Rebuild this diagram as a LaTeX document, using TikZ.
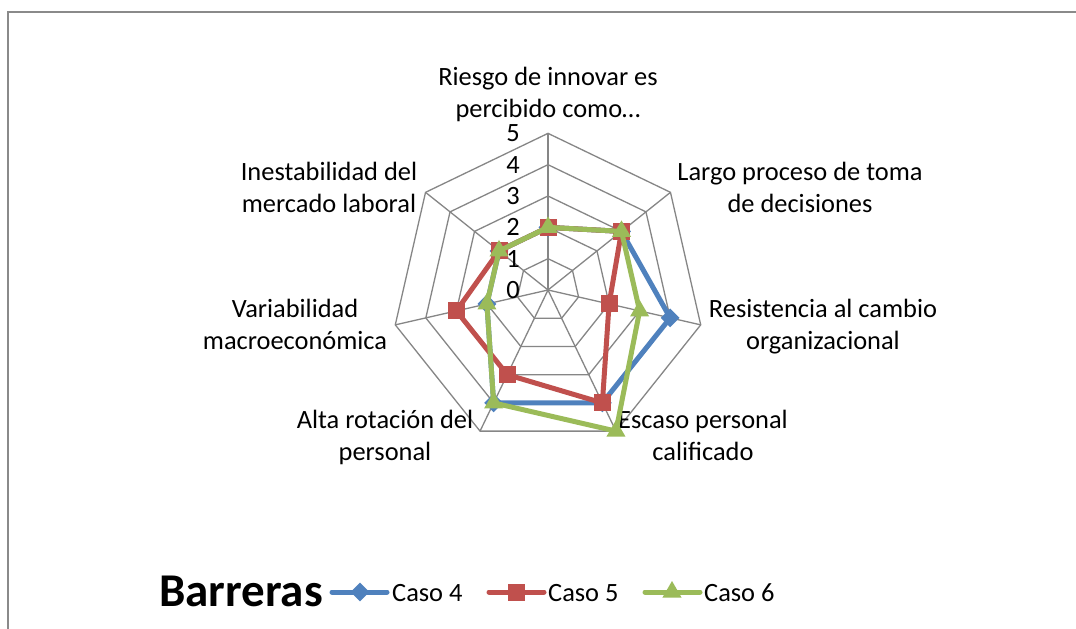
\documentclass[tikz,border=0pt]{standalone}
\usepackage{fontspec}
\setmainfont{Carlito}
\usetikzlibrary{shapes.geometric}
\definecolor{cfour}{HTML}{4F81BD}
\definecolor{cfive}{HTML}{C0504D}
\definecolor{csix}{HTML}{9BBB59}
\definecolor{gridc}{HTML}{868686}
\definecolor{framec}{HTML}{8A8A8A}
\begin{document}
\begin{tikzpicture}[x=1pt,y=-1pt,
  lbl/.style={font=\fontsize{26.4}{32}\selectfont, align=center, inner sep=0pt},
  ticklbl/.style={font=\fontsize{26.4}{32}\selectfont, inner sep=0pt},
  legtxt/.style={font=\fontsize{26.4}{32}\selectfont, inner sep=0pt, anchor=base west},
  gridline/.style={draw=gridc, line width=1.3pt, line join=miter},
  ser/.style={line width=5pt, line join=round, line cap=round},
  dmark/.style={diamond, fill=cfour, minimum width=19pt, minimum height=19pt, inner sep=0pt},
  smark/.style={rectangle, fill=cfive, minimum size=17pt, inner sep=0pt},
  tmark/.style={regular polygon, regular polygon sides=3, fill=csix, minimum size=22pt, inner sep=0pt},
]
\useasboundingbox (0,0) rectangle (1076,629);
\fill[white] (0,0) rectangle (1076,629);
% frame
\draw[framec, line width=1.8pt] (8,629) -- (8,12) -- (1076,12);

% grid
\coordinate (O) at (548,290);
\foreach \k in {1,...,5}{
  \foreach \i in {0,...,6}{
    \coordinate (g\k-\i) at ({548+31.33*\k*cos(90-360/7*\i)},{290-31.33*\k*sin(90-360/7*\i)});
  }
}
\foreach \k in {1,...,5}{
  \draw[gridline] (g\k-0) \foreach \i in {1,...,6}{ -- (g\k-\i) } -- cycle;
}
\foreach \i in {0,...,6}{
  \draw[gridline] (O) -- (g5-\i);
}

% tick labels
\foreach \k in {0,...,5}{
  \node[ticklbl] (t\k) at (513,{290-31.33*\k}) {\k};
}

% axis labels (anchor=base is the baseline of the last line)
\node[lbl, anchor=base] (l0) at (548,117) {Riesgo de innovar es\\percibido como…};
\node[lbl, anchor=base] (l1) at (800,212) {Largo proceso de toma\\de decisiones};
\node[lbl, anchor=base] (l2) at (823,349) {Resistencia al cambio\\organizacional};
\node[lbl, anchor=base] (l3) at (703,460) {Escaso personal\\calificado};
\node[lbl, anchor=base] (l4) at (385,460) {Alta rotación del\\personal};
\node[lbl, anchor=base] (l5) at (295,349) {Variabilidad\\macroeconómica};
\node[lbl, anchor=base] (l6) at (329,212) {Inestabilidad del\\mercado laboral};

% data points
\foreach \v [count=\i from 0] in {2,3,4,4,4,2,2}{
  \coordinate (b\i) at ({548+31.33*\v*cos(90-360/7*\i)},{290-31.33*\v*sin(90-360/7*\i)});
}
\foreach \v [count=\i from 0] in {2,3,2,4,3,3,2}{
  \coordinate (r\i) at ({548+31.33*\v*cos(90-360/7*\i)},{290-31.33*\v*sin(90-360/7*\i)});
}
\foreach \v [count=\i from 0] in {2,3,3,5,4,2,2}{
  \coordinate (s\i) at ({548+31.33*\v*cos(90-360/7*\i)},{290-31.33*\v*sin(90-360/7*\i)});
}

% Caso 4
\draw[ser, cfour] (b0) -- (b1) -- (b2) -- (b3) -- (b4) -- (b5) -- (b6) -- cycle;
\foreach \i in {0,...,6}{ \node[dmark] (mb\i) at (b\i) {}; }
% Caso 5
\draw[ser, cfive] (r0) -- (r1) -- (r2) -- (r3) -- (r4) -- (r5) -- (r6) -- cycle;
\foreach \i in {0,...,6}{ \node[smark] (mr\i) at (r\i) {}; }
% Caso 6
\draw[ser, csix] (s0) -- (s1) -- (s2) -- (s3) -- (s4) -- (s5) -- (s6) -- cycle;
\foreach \i in {0,...,6}{ \node[tmark] (ms\i) at (s\i) {}; }

% legend
\node[font=\fontsize{47}{52}\selectfont\bfseries, inner sep=0pt, anchor=base west] (title) at (159,606) {Barreras};
\coordinate (la1) at (332,592); \coordinate (la2) at (387,592);
\draw[ser, cfour] (la1) -- (la2);
\node[dmark] (lma) at (360,592) {};
\node[legtxt] (lta) at (392,601) {Caso 4};
\coordinate (lb1) at (489,592); \coordinate (lb2) at (544,592);
\draw[ser, cfive] (lb1) -- (lb2);
\node[smark] (lmb) at (516,592) {};
\node[legtxt] (ltb) at (548,601) {Caso 5};
\coordinate (lc1) at (645,592); \coordinate (lc2) at (700,592);
\draw[ser, csix] (lc1) -- (lc2);
\node[tmark] (lmc) at (672,592) {};
\node[legtxt] (ltc) at (704,601) {Caso 6};
\end{tikzpicture}
\end{document}
